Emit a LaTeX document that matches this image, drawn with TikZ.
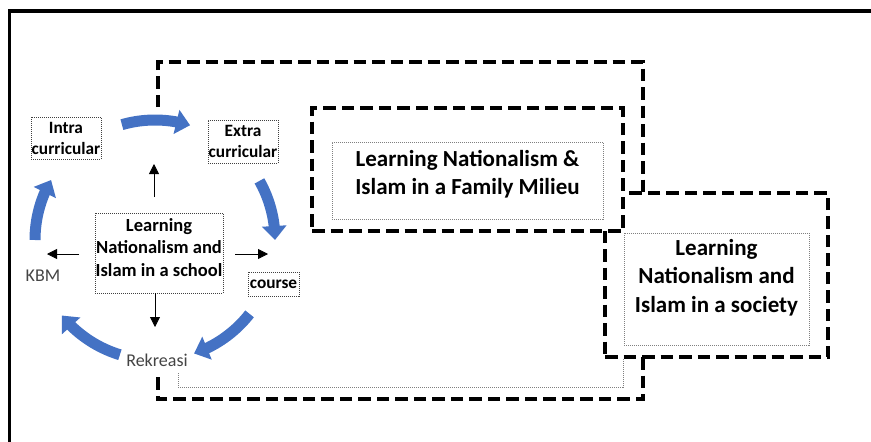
\documentclass[tikz,border=0pt]{standalone}
\usepackage{fontspec}
\setmainfont{Carlito}
\usetikzlibrary{arrows.meta,bending,calc}
\definecolor{cycleblue}{HTML}{4472C4}
\definecolor{softgray}{HTML}{444444}
\begin{document}
\begin{tikzpicture}[x=1pt,y=-1pt,
  bigdash/.style={line width=3.8pt, dash pattern=on 12.5pt off 6pt},
  thindot/.style={draw=gray, line width=0.5pt, dash pattern=on 1pt off 1pt},
  labelbox/.style={draw=black!75, line width=0.6pt, dash pattern=on 1pt off 1pt, inner sep=0pt, align=center, font=\fontsize{17.3}{21}\selectfont\bfseries},
  bigtext/.style={align=center, inner sep=0pt, font=\fontsize{23}{28.3}\selectfont\bfseries},
  centertext/.style={align=center, inner sep=0pt, font=\fontsize{18.5}{22.5}\selectfont\bfseries},
  graytext/.style={inner sep=0pt, text=softgray, font=\fontsize{18}{22}\selectfont},
  cyclearrow/.style={draw=cycleblue, line width=11pt, -{Triangle[length=14pt,width=24pt]}},
  blackarrow/.style={line width=0.8pt, -{Triangle[length=10pt,width=10pt]}}
]
\useasboundingbox (0,0) rectangle (871,442);
% outer frame (only top and left sides are visible)
\draw[line width=3.3pt] (9.5,442) -- (9.5,11) -- (871,11);

% large dashed frame, partly hidden
\draw[bigdash] (158,107) -- (158,62) -- (643,62) -- (643,193);
\draw[bigdash] (643,357) -- (643,399) -- (158,399) -- (158,373);
\draw[thindot] (178,373) -- (178,387) -- (623,387) -- (623,358);

% society box
\node[bigdash, draw, fill=white, minimum width=223pt, minimum height=164pt, inner sep=0pt] (socout) at (716.5,275) {};
\node[thindot, minimum width=185pt, minimum height=112pt, inner sep=0pt] (socin) at (716.5,289) {};
\node[bigtext] (soctext) at (716.5,277.5) {Learning\\Nationalism and\\Islam in a society};

% family box
\node[bigdash, draw, fill=white, minimum width=311pt, minimum height=123pt, inner sep=0pt] (famout) at (467.5,169.5) {};
\node[thindot, minimum width=271pt, minimum height=77pt, inner sep=0pt] (famin) at (467.5,180.5) {};
\node[bigtext] (famtext) at (467.5,174) {Learning Nationalism \&\\Islam in a Family Milieu};

% school cycle
\node[labelbox, minimum width=128pt, minimum height=80pt] (school) at (159,253) {};
\node[centertext] (schooltext) at (159,247.5) {Learning\\Nationalism and\\Islam in a school};
\node[labelbox, minimum width=70pt, minimum height=42pt] (intra) at (66,138) {Intra\\curricular};
\node[labelbox, minimum width=70pt, minimum height=43pt] (extra) at (243,141.5) {Extra\\curricular};
\node[labelbox, minimum width=51pt, minimum height=24pt] (course) at (273.5,284) {course};
\node[graytext] (kbm) at (43,276) {KBM};
\node[graytext] (rek) at (157,360) {Rekreasi};

% blue cycle arrows
\coordinate (hub) at (155,240);
\coordinate (c1) at ($(hub)+(106:120pt)$);
\coordinate (c2) at ($(hub)+(29.5:120pt)$);
\coordinate (c3) at ($(hub)+(-38:120pt)$);
\coordinate (c4) at ($(hub)+(-107:120pt)$);
\coordinate (c5) at ($(hub)+(180:120pt)$);
\draw[cyclearrow] (c1) arc[start angle=106, end angle=73, radius=120pt];
\draw[cyclearrow] (c2) arc[start angle=29.5, end angle=0, radius=120pt];
\draw[cyclearrow] (c3) arc[start angle=-38, end angle=-71, radius=120pt];
\draw[cyclearrow] (c4) arc[start angle=-107, end angle=-141, radius=120pt];
\draw[cyclearrow] (c5) arc[start angle=180, end angle=150, radius=120pt];

% black arrows from the centre
\coordinate (upS) at (154,197);
\coordinate (upE) at (154,164);
\coordinate (dnS) at (155,293);
\coordinate (dnE) at (155,327);
\coordinate (ltS) at (79,254);
\coordinate (ltE) at (47,254);
\coordinate (rtS) at (235,254);
\coordinate (rtE) at (268,254);
\draw[blackarrow] (upS) -- (upE);
\draw[blackarrow] (dnS) -- (dnE);
\draw[blackarrow] (ltS) -- (ltE);
\draw[blackarrow] (rtS) -- (rtE);
\end{tikzpicture}
\end{document}
